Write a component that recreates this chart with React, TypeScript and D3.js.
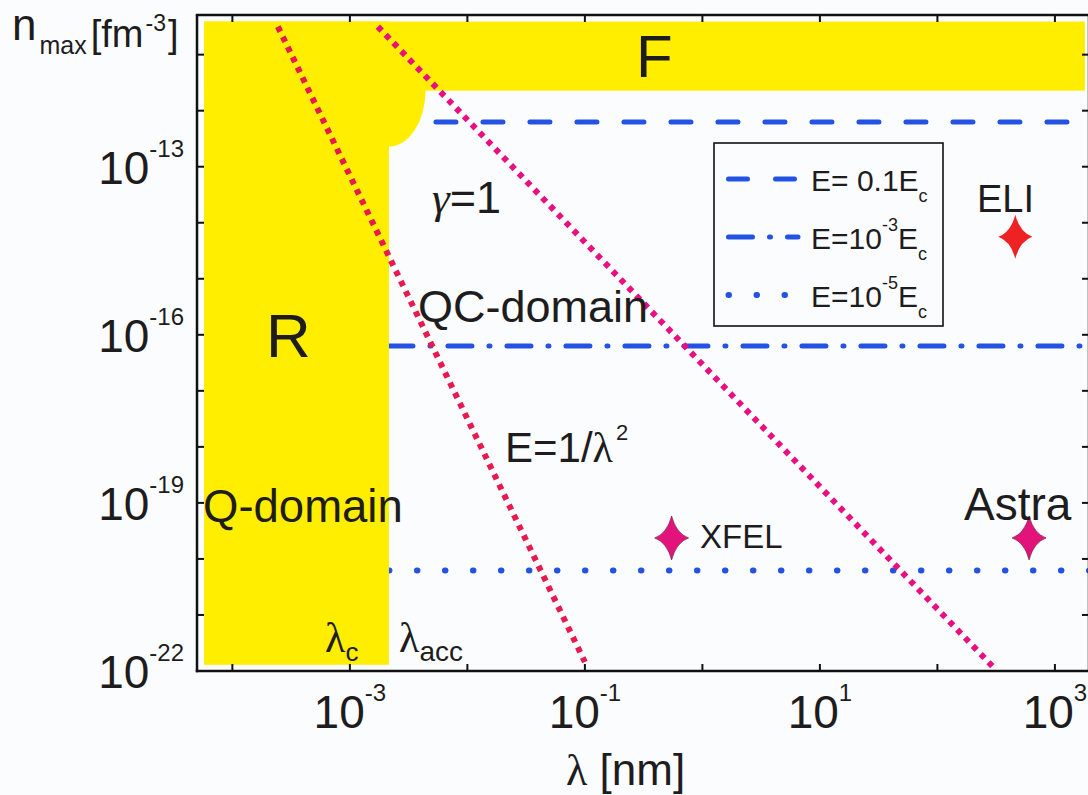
import React from 'react';
import * as d3 from 'd3';

// ---------- data ----------
const lambdaDomain = [5.0e-5, 1.95e3]; // nm
const nDomain = [1e-22, 5.1e-11]; // fm^-3

const xTickExps = [-4, -3, -2, -1, 0, 1, 2, 3];
const xLabelExps = [-3, -1, 1, 3];
const yTickExps = [-22, -21, -20, -19, -18, -17, -16, -15, -14, -13, -12, -11];
const yLabelExps = [-22, -19, -16, -13];

// field-strength levels (horizontal lines) and legend texts
const fieldLevels = [6.3e-13, 6.3e-17, 6.2e-21];
const fieldExps = ['0.1', '-3', '-5'];
const fieldStyles = ['dash', 'dashdot', 'dot'];
const fieldStartLambda = 2.15e-3;
const fieldEndLambda = 1.95e3;

// yellow domains
const regionR = { lambda: [5.74e-5, 2.15e-3], n: [1.29e-22, 3.9e-11] };
const regionF = { lambda: [5.74e-5, 1.8e3], n: [2.28e-12, 3.9e-11] };
const cornerReach = { lambda: 4.4e-3, n: 2.3e-13 };

// boundary lines [start, end]
const lineQuantumLambda = [2.44e-4, 0.1];
const lineQuantumN = [3.16e-11, 1.45e-22];
const lineGammaLambda = [1.73e-3, 305];
const lineGammaN = [3.16e-11, 1.12e-22];

// laser facilities
const sourceNames = ['ELI', 'XFEL', 'Astra'];
const sourceLambda = [460, 0.547, 603];
const sourceN = [5.6e-15, 2.37e-20, 2.37e-20];
const sourceColors = ['#ee2222', '#e3137c', '#e3137c'];

// ---------- layout ----------
const W = 1088;
const H = 795;
const L = 197, R = 1089, T = 15, B = 671;
const FONT = '"Liberation Sans", Arial, Helvetica, sans-serif';
const SERIF = '"Liberation Serif", "Times New Roman", serif';
const TXT = '#1e1c1d';
const YELLOW = '#ffee00';
const BLUE = '#2452e2';
const BG = '#fbfcfd';

const x = d3.scaleLog().domain(lambdaDomain).range([L, R]);
const y = d3.scaleLog().domain(nDomain).range([B, T]);

const dashFor: Record<string, string> = {
  dash: '20 27',
  dashdot: '24 17 1 17',
  dot: '0.5 27.5',
};

function starPath(cx: number, cy: number, w: number, h: number, c: number) {
  const p = d3.path();
  p.moveTo(cx, cy - h);
  p.quadraticCurveTo(cx + c, cy - c, cx + w, cy);
  p.quadraticCurveTo(cx + c, cy + c, cx, cy + h);
  p.quadraticCurveTo(cx - c, cy + c, cx - w, cy);
  p.quadraticCurveTo(cx - c, cy - c, cx, cy - h);
  p.closePath();
  return p.toString();
}

export default function App() {
  const lineGen = d3
    .line<[number, number]>()
    .x((d) => x(d[0]))
    .y((d) => y(d[1]));

  const cornerCx = x(regionR.lambda[1]);
  const cornerCy = y(regionF.n[0]);
  const cornerRx = x(cornerReach.lambda) - cornerCx;
  const cornerRy = y(cornerReach.n) - cornerCy;

  const legendX = 714, legendY = 143, legendW = 229, legendH = 183;
  const legendRows = [179, 237, 295];

  return (
    <svg
      width={W}
      height={H}
      style={{ position: 'absolute', left: 0, top: 0, fontFamily: FONT }}
    >
      <defs>
        <clipPath id="plotClip">
          <rect x={L} y={T} width={R - L} height={B - T} />
        </clipPath>
      </defs>
      <rect x={0} y={0} width={W} height={H} fill={BG} />

      <g clipPath="url(#plotClip)">
        {/* field lines */}
        {fieldLevels.map((lv, i) => (
          <path
            key={'f' + i}
            d={lineGen([
              [fieldStartLambda, lv],
              [fieldEndLambda, lv],
            ])!}
            stroke={BLUE}
            strokeWidth={i === 2 ? 6 : 5}
            strokeLinecap="round"
            strokeDasharray={dashFor[fieldStyles[i]]}
            fill="none"
          />
        ))}

        {/* yellow domains */}
        <rect
          x={x(regionR.lambda[0])}
          y={y(regionR.n[1])}
          width={x(regionR.lambda[1]) - x(regionR.lambda[0])}
          height={y(regionR.n[0]) - y(regionR.n[1])}
          fill={YELLOW}
        />
        <rect
          x={x(regionF.lambda[0])}
          y={y(regionF.n[1])}
          width={x(regionF.lambda[1]) - x(regionF.lambda[0])}
          height={y(regionF.n[0]) - y(regionF.n[1])}
          fill={YELLOW}
        />
        <ellipse cx={cornerCx} cy={cornerCy} rx={cornerRx} ry={cornerRy} fill={YELLOW} />

        {/* boundary lines */}
        <path
          d={lineGen([
            [lineQuantumLambda[0], lineQuantumN[0]],
            [lineQuantumLambda[1], lineQuantumN[1]],
          ])!}
          stroke="#e8194f"
          strokeWidth={6}
          strokeDasharray="5.5 5.8"
          fill="none"
        />
        <path
          d={lineGen([
            [lineGammaLambda[0], lineGammaN[0]],
            [lineGammaLambda[1], lineGammaN[1]],
          ])!}
          stroke="#ea0f80"
          strokeWidth={6}
          strokeDasharray="5.5 5.8"
          fill="none"
        />

        {/* sources */}
        {sourceNames.map((s, i) => (
          <path
            key={s}
            d={starPath(x(sourceLambda[i]), y(sourceN[i]), 17, 22, 4.5)}
            fill={sourceColors[i]}
            stroke={i === 0 ? 'none' : '#5a1030'}
            strokeWidth={0.6}
          />
        ))}
      </g>

      {/* region / curve labels */}
      <g fill={TXT}>
        <text x={636} y={77} fontSize={60}>F</text>
        <text x={266} y={357} fontSize={62}>R</text>
        <text x={203} y={522} fontSize={45.5}>Q-domain</text>
        <text x={418} y={322} fontSize={45}>QC-domain</text>
        <text x={432} y={213} fontSize={45}>
          <tspan fontFamily={SERIF} fontStyle="italic">γ</tspan>=1
        </text>
        <text x={505} y={462} fontSize={42}>
          E=1/<tspan fontFamily={SERIF}>λ</tspan>
          <tspan fontSize={22} dy={-22} dx={3}>2</tspan>
        </text>
        <text x={977} y={212} fontSize={38}>ELI</text>
        <text x={964} y={520} fontSize={46}>Astra</text>
        <text x={700} y={548} fontSize={33}>XFEL</text>
        <text x={325} y={652} fontSize={42} fontFamily={SERIF}>
          λ<tspan fontFamily={FONT} fontSize={26} dy={9}>c</tspan>
        </text>
        <text x={399} y={652} fontSize={42} fontFamily={SERIF}>
          λ<tspan fontFamily={FONT} fontSize={28} dy={9}>acc</tspan>
        </text>
      </g>

      {/* axes frame */}
      <g stroke="#111" strokeWidth={2.5} fill="none">
        <line x1={L} y1={T} x2={L} y2={B + 1.2} />
        <line x1={L - 1.2} y1={B} x2={R} y2={B} />
        <line x1={L - 1.2} y1={T} x2={R} y2={T} />
        <line x1={R} y1={T} x2={R} y2={B} />
      </g>
      <g stroke="#111" strokeWidth={2}>
        {xTickExps.map((e) => {
          const px = x(Math.pow(10, e));
          return (
            <g key={'xt' + e}>
              <line x1={px} y1={B} x2={px} y2={B - 7} />
              <line x1={px} y1={T} x2={px} y2={T + 7} />
            </g>
          );
        })}
        {yTickExps.map((e) => {
          const py = y(Math.pow(10, e));
          return (
            <g key={'yt' + e}>
              <line x1={L} y1={py} x2={L + 7} y2={py} />
              <line x1={R} y1={py} x2={R - 7} y2={py} />
            </g>
          );
        })}
      </g>

      {/* tick labels */}
      <g fill={TXT}>
        {xLabelExps.map((e) => (
          <text key={'xl' + e} x={x(Math.pow(10, e))} y={728} fontSize={46} textAnchor="middle">
            10<tspan fontSize={24} dy={-27}>{e < 0 ? '-' + Math.abs(e) : String(e)}</tspan>
          </text>
        ))}
        {yLabelExps.map((e) => (
          <text key={'yl' + e} x={184} y={y(Math.pow(10, e)) + 17} fontSize={46} textAnchor="end">
            10<tspan fontSize={24} dy={-27}>{'-' + Math.abs(e)}</tspan>
          </text>
        ))}
      </g>

      {/* axis titles */}
      <text x={12} y={40} fontSize={44} fill={TXT}>
        n<tspan fontSize={25} dy={14} dx={3}>max</tspan>
        <tspan fontSize={38} dy={-7} dx={4}>[fm</tspan>
        <tspan fontSize={23} dy={-16} dx={2}>-3</tspan>
        <tspan fontSize={38} dy={16} dx={2}>]</tspan>
      </text>
      <text x={566} y={785} fontSize={44} fill={TXT}>
        <tspan fontFamily={SERIF}>λ</tspan> [nm]
      </text>

      {/* legend */}
      <rect
        x={legendX}
        y={legendY}
        width={legendW}
        height={legendH}
        fill={BG}
        stroke="#111"
        strokeWidth={1.6}
      />
      {fieldStyles.map((st, i) => (
        <g key={'lg' + i}>
          <line
            x1={728.5}
            y1={legendRows[i]}
            x2={798}
            y2={legendRows[i]}
            stroke={BLUE}
            strokeWidth={i === 2 ? 6 : 5}
            strokeLinecap="round"
            strokeDasharray={st === 'dash' ? '19 28' : st === 'dashdot' ? '24 17 1 17' : '0.5 27.5'}
          />
          <text x={811} y={legendRows[i] + 12} fontSize={30} fill={TXT}>
            {i === 0 ? (
              <>
                E= {fieldExps[i]}E<tspan fontSize={18} dy={11}>c</tspan>
              </>
            ) : (
              <>
                E=10<tspan fontSize={18} dy={-18}>{fieldExps[i]}</tspan>
                <tspan dy={18}>E</tspan>
                <tspan fontSize={18} dy={11}>c</tspan>
              </>
            )}
          </text>
        </g>
      ))}
    </svg>
  );
}
